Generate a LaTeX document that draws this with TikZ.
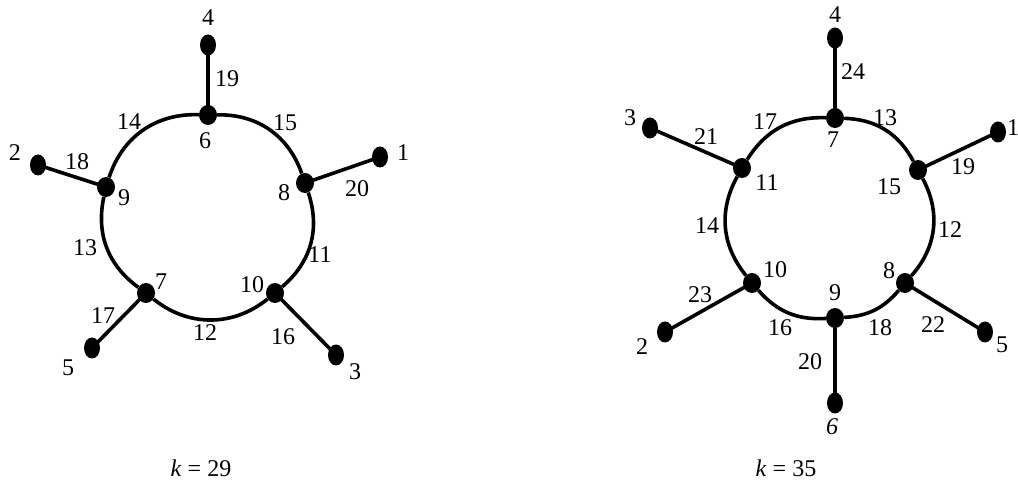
\documentclass[tikz,border=0pt]{standalone}
\usepackage{fontspec}
\setmainfont{Liberation Serif}
\usetikzlibrary{shapes.geometric}
\tikzset{
  vtx/.style={ellipse, fill=black, draw=none, minimum width=18pt, minimum height=20pt, inner sep=0pt},
  leaf/.style={ellipse, fill=black, draw=none, minimum width=16pt, minimum height=21pt, inner sep=0pt},
  edge/.style={line width=3.6pt},
  lab/.style={inner sep=0pt, font=\fontsize{24}{28}\selectfont},
}
\begin{document}
\begin{tikzpicture}[x=1pt,y=1pt]
\useasboundingbox (0,0) rectangle (1018,498);
% ---------- left graph (k=29) ----------
\node[vtx] (a6) at (208,383) {};
\node[vtx] (a8) at (305,315) {};
\node[vtx] (a10) at (275,205) {};
\node[vtx] (a7) at (146,205) {};
\node[vtx] (a9) at (106,311) {};
\node[leaf] (a4) at (208,453) {};
\node[leaf] (a1) at (380,341) {};
\node[leaf] (a3) at (336,143) {};
\node[leaf] (a5) at (92,150) {};
\node[leaf] (a2) at (38,333) {};
\draw[edge] (a6) to[bend left=36] (a8);
\draw[edge] (a8) to[bend left=34] (a10);
\draw[edge] (a10) to[bend left=39] (a7);
\draw[edge] (a7) to[bend left=33] (a9);
\draw[edge] (a9) to[bend left=37] (a6);
\draw[edge] (a6.center) -- (a4.center);
\draw[edge] (a8.center) -- (a1.center);
\draw[edge] (a10.center) -- (a3.center);
\draw[edge] (a7.center) -- (a5.center);
\draw[edge] (a9.center) -- (a2.center);
\node[lab] (la4) at (208,480) {4};
\node[lab] (l19) at (227,419) {19};
\node[lab] (l14) at (129,376) {14};
\node[lab] (l15) at (285,375) {15};
\node[lab] (la6) at (205,357) {6};
\node[lab] (la2) at (15,345) {2};
\node[lab] (l18) at (77,336) {18};
\node[lab] (la9) at (124,300) {9};
\node[lab] (la1) at (403,345) {1};
\node[lab] (la8) at (284,305) {8};
\node[lab] (l20) at (357,309) {20};
\node[lab] (l13) at (85,250) {13};
\node[lab] (l11) at (320,243) {11};
\node[lab] (la7) at (161,216) {7};
\node[lab] (la10) at (252,213) {10};
\node[lab] (l17) at (103,182) {17};
\node[lab] (l12) at (205,165) {12};
\node[lab] (l16) at (283,161) {16};
\node[lab] (la5) at (68,130) {5};
\node[lab] (la3) at (355,126) {3};
\node[lab] (ka) at (201,30) {\textit{k}\hspace{0.25em}=\hspace{0.25em}29};
% ---------- right graph (k=35) ----------
\node[vtx] (b7) at (835,380) {};
\node[vtx] (b15) at (918,328) {};
\node[vtx] (b8) at (905,215) {};
\node[vtx] (b9) at (835,180) {};
\node[vtx] (b10) at (752,215) {};
\node[vtx] (b11) at (742,330) {};
\node[leaf] (b4) at (835,460) {};
\node[leaf] (b1) at (998,366) {};
\node[leaf] (b5) at (985,166) {};
\node[leaf] (b6) at (835,95) {};
\node[leaf] (b2) at (665,166) {};
\node[leaf] (b3) at (650,370) {};
\draw[edge] (b7) to[bend left=30] (b15);
\draw[edge] (b15) to[bend left=35] (b8);
\draw[edge] (b8) to[bend left=23] (b9);
\draw[edge] (b9) to[bend left=26] (b10);
\draw[edge] (b10) to[bend left=34] (b11);
\draw[edge] (b11) to[bend left=30] (b7);
\draw[edge] (b7.center) -- (b4.center);
\draw[edge] (b15.center) -- (b1.center);
\draw[edge] (b8.center) -- (b5.center);
\draw[edge] (b9.center) -- (b6.center);
\draw[edge] (b10.center) -- (b2.center);
\draw[edge] (b11.center) -- (b3.center);
\node[lab] (lb4) at (835,483) {4};
\node[lab] (m24) at (853,426) {24};
\node[lab] (lb3) at (630,380) {3};
\node[lab] (m21) at (706,361) {21};
\node[lab] (m17) at (765,376) {17};
\node[lab] (m13) at (885,380) {13};
\node[lab] (lb7) at (833,358) {7};
\node[lab] (lb1) at (1013,370) {1};
\node[lab] (m19) at (963,331) {19};
\node[lab] (lb11) at (767,315) {11};
\node[lab] (lb15) at (889,311) {15};
\node[lab] (m14) at (707,272) {14};
\node[lab] (m12) at (950,268) {12};
\node[lab] (lb10) at (775,228) {10};
\node[lab] (lb8) at (889,227) {8};
\node[lab] (lb9) at (835,205) {9};
\node[lab] (m23) at (700,203) {23};
\node[lab] (m16) at (780,170) {16};
\node[lab] (m18) at (880,170) {18};
\node[lab] (m22) at (933,173) {22};
\node[lab] (lb2) at (642,151) {2};
\node[lab] (lb5) at (1002,153) {5};
\node[lab] (m20) at (810,136) {20};
\node[lab] (lb6) at (832,71) {\textit{6}};
\node[lab] (kb) at (786,30) {\textit{k}\hspace{0.25em}=\hspace{0.25em}35};
\end{tikzpicture}
\end{document}
